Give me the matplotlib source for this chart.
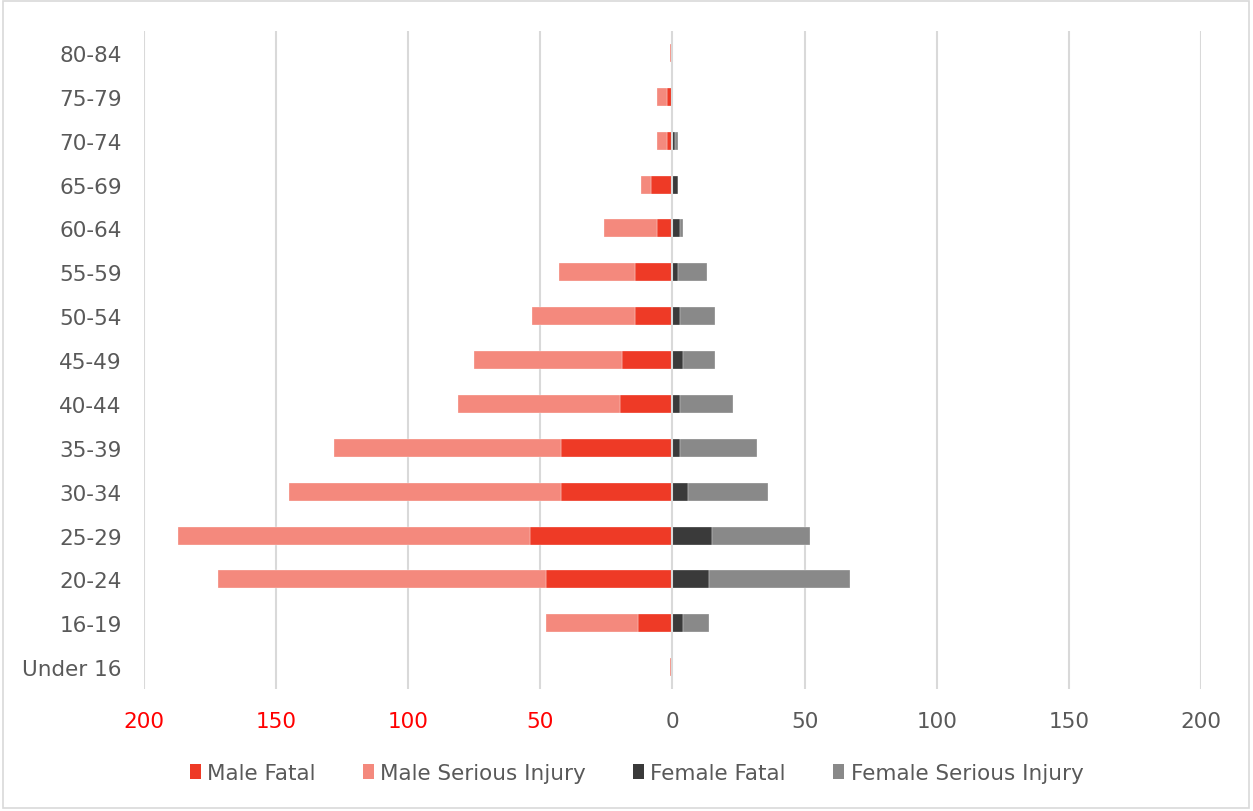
import matplotlib
matplotlib.use("Agg")
import matplotlib.pyplot as plt
from matplotlib.patches import Patch, Rectangle
import numpy as np

plt.rcParams['font.family'] = ['DejaVu Sans']

age_groups = ["80-84", "75-79", "70-74", "65-69", "60-64", "55-59", "50-54", "45-49",
              "40-44", "35-39", "30-34", "25-29", "20-24", "16-19", "Under 16"]
male_fatal = [0, 2, 2, 8, 6, 14, 14, 19, 20, 42, 42, 54, 48, 13, 0]
male_serious = [1, 4, 4, 4, 20, 29, 39, 56, 61, 86, 103, 133, 124, 35, 1]
female_fatal = [0, 0, 1, 2, 3, 2, 3, 4, 3, 3, 6, 15, 14, 4, 0]
female_serious = [0, 0, 1, 0, 1, 11, 13, 12, 20, 29, 30, 37, 53, 10, 0]
xticks = [-200, -150, -100, -50, 0, 50, 100, 150, 200]
xtick_labels = ["200", "150", "100", "50", "0", "50", "100", "150", "200"]
series_names = ["Male Fatal", "Male Serious Injury", "Female Fatal", "Female Serious Injury"]

c_mf = "#EE3A26"
c_ms = "#F4897D"
c_ff = "#3A3A3A"
c_fs = "#898989"
grid_c = "#D9D9D9"
text_c = "#595959"
fs_txt = 15.5

fig = plt.figure(figsize=(12.53, 8.12), dpi=100)
ax = fig.add_axes([0.1149, 0.1502, 0.8436, 0.8103])

y = np.arange(len(age_groups))
mf = np.array(male_fatal, dtype=float)
ms = np.array(male_serious, dtype=float)
ff = np.array(female_fatal, dtype=float)
fs = np.array(female_serious, dtype=float)
h = 0.41
kw = dict(height=h, edgecolor=(1, 1, 1, 0.7), linewidth=0.3, zorder=3)
ax.barh(y, -mf, color=c_mf, **kw)
ax.barh(y, -ms, left=-mf, color=c_ms, **kw)
ax.barh(y, ff, color=c_ff, **kw)
ax.barh(y, fs, left=ff, color=c_fs, **kw)

for xv in xticks:
    ax.axvline(xv, color=grid_c, lw=1.5, zorder=1 if xv != 0 else 4)

ax.set_xlim(-200, 200)
ax.set_ylim(len(age_groups) - 0.5, -0.5)
ax.set_yticks(y)
ax.set_yticklabels(age_groups, fontsize=fs_txt, color=text_c)
ax.set_xticks(xticks)
ax.set_xticklabels(xtick_labels, fontsize=fs_txt)
for lbl, xv in zip(ax.get_xticklabels(), xticks):
    lbl.set_color("#FF0000" if xv < 0 else text_c)
ax.tick_params(axis="both", length=0)
ax.tick_params(axis="y", pad=16)
ax.tick_params(axis="x", pad=16)
for s in ax.spines.values():
    s.set_visible(False)

handles = [Patch(facecolor=c, edgecolor="none") for c in (c_mf, c_ms, c_ff, c_fs)]
fig.legend(handles, series_names, loc="center", bbox_to_anchor=(0.508, 0.047), ncol=4,
           frameon=False, fontsize=fs_txt, labelcolor=text_c, handlelength=0.5,
           handleheight=0.7, handletextpad=0.3, columnspacing=2.2)

fig.patches.append(Rectangle((0.002, 0.004), 0.995, 0.993, transform=fig.transFigure,
                             fill=False, edgecolor=grid_c, lw=1.2))

fig.savefig("out.png", dpi=100, facecolor="white")
